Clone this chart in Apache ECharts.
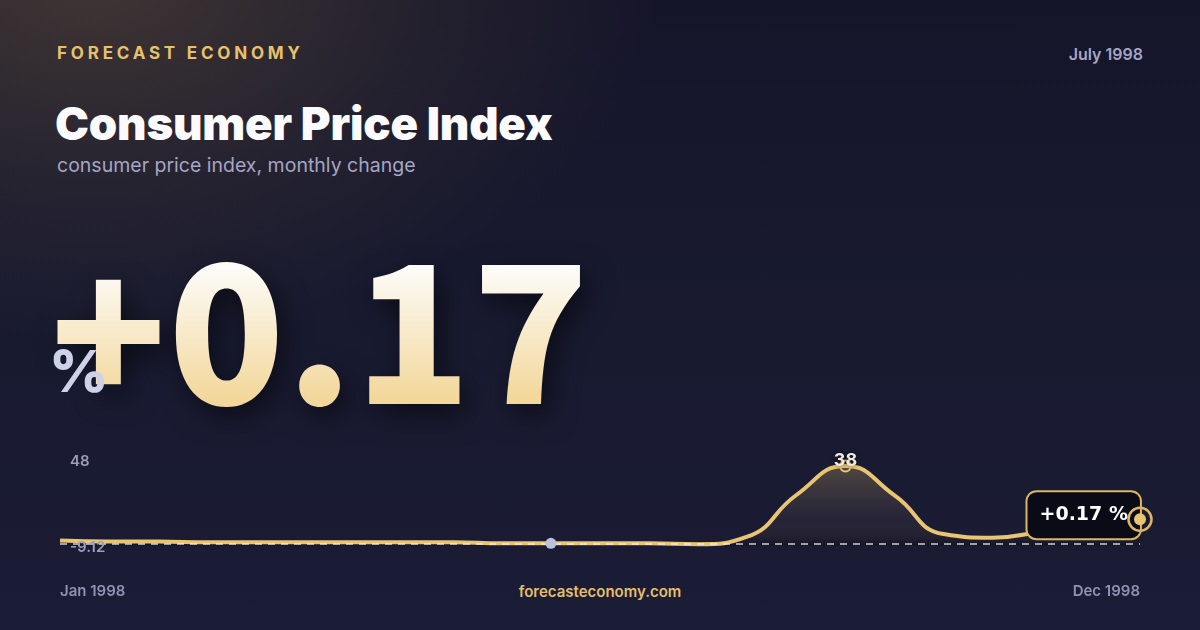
<!DOCTYPE html>
<html><head><meta charset="utf-8">
<script src="https://cdn.jsdelivr.net/npm/echarts@6/dist/echarts.min.js"></script>
<style>
html,body{margin:0;padding:0;}
body{width:1200px;height:630px;overflow:hidden;position:relative;font-family:Inter,'Noto Sans',sans-serif;
background:
 radial-gradient(ellipse 760px 480px at 90px -20px, rgba(98,80,60,0.55) 0%, rgba(98,80,60,0.18) 45%, rgba(98,80,60,0) 75%),
 linear-gradient(180deg,#15152a 0%,#181a30 50%,#1b1c35 100%);}
.t{position:absolute;white-space:nowrap;line-height:1;}
#brand{left:57px;top:44.7px;font-size:17px;font-weight:700;letter-spacing:3.8px;color:#e6c26c;}
#title{left:55px;top:101px;font-size:45.5px;font-weight:900;color:#fbfbfd;letter-spacing:-0.2px;}
#sub{left:57px;top:156.4px;font-size:19.5px;font-weight:400;color:#a4a6c4;}
#date{right:57px;top:46px;font-size:16px;font-weight:600;color:#a4a6c4;}
#big{left:50px;top:224px;font-family:'Noto Sans CJK SC',sans-serif;font-size:192px;font-weight:900;letter-spacing:1px;
 background:linear-gradient(180deg,#fdfcf9 22%,#f3d89c 90%);-webkit-background-clip:text;background-clip:text;color:transparent;
 filter:drop-shadow(6px 10px 14px rgba(0,0,0,0.55));}
#pct{left:49px;top:342px;font-size:58px;font-weight:800;color:#ced2e8;}
#foot{left:0;width:1200px;text-align:center;top:584px;font-size:15px;font-weight:600;color:#e3bf6a;}
#chart{position:absolute;left:0;top:0;width:1200px;height:630px;}
</style></head>
<body>
<div class="t" id="brand">FORECAST ECONOMY</div>
<div class="t" id="title">Consumer Price Index</div>
<div class="t" id="sub">consumer price index, monthly change</div>
<div class="t" id="date">July 1998</div>
<div class="t" id="big"></div>
<div class="t" id="pct">%</div>
<div class="t" id="foot">forecasteconomy.com</div>
<div id="chart"></div>
<script>
// semi-monthly observations, Jan 1998 .. Dec 1998
const DATES = ['1998-01-01','1998-01-16','1998-02-01','1998-02-16','1998-03-01','1998-03-16','1998-04-01','1998-04-16',
  '1998-05-01','1998-05-16','1998-06-01','1998-06-16','1998-07-01','1998-07-16','1998-08-01','1998-08-16',
  '1998-09-01','1998-09-16','1998-10-01','1998-10-16','1998-11-01','1998-11-16','1998-12-01'];
const VALUES = [2.55, 2.07, 2.07, 1.69, 1.69, 1.69, 1.69, 1.69, 1.69, 1.21, 1.21, 1.21,
  1.21, 0.74, 4.35, 24.2, 38, 24.0, 5.6, 3.9, 6.6, 9.0, 12.67];
const Y_TICKS = [-9.12, 48];
const HEADLINE = 0.17;
const HEADLINE_UNIT = '%';
const MARKED_INDEX = 10;

const MONTH_NAMES = ['Jan','Feb','Mar','Apr','May','Jun','Jul','Aug','Sep','Oct','Nov','Dec'];
const fmtDate = s => { const [y,m] = s.split('-'); return MONTH_NAMES[+m-1] + ' ' + y; };
const Y_MIN = Y_TICKS[0], Y_MAX = Y_TICKS[1];
const LAST = VALUES.length - 1;
const GOLD = '#e9c571';
const headlineText = (HEADLINE >= 0 ? '+' : '') + HEADLINE.toFixed(2);
document.getElementById('big').textContent = headlineText;

const chart = echarts.init(document.getElementById('chart'), null, {renderer:'canvas'});
const baseLabel = {fontFamily:'Inter', fontSize:15, fontWeight:600, color:'#9b9db9'};
function yAxisFor(which){
  return {
    type:'value', min:Y_MIN, max:Y_MAX, interval:Y_MAX-Y_MIN, position:'left', z:10,
    axisLine:{show:false}, axisTick:{show:false}, splitLine:{show:false},
    axisLabel:Object.assign({}, baseLabel, {
      inside:true, margin:10,
      verticalAlign: which==='max' ? 'top' : 'bottom',
      lineHeight: which==='max' ? 32 : 36,
      formatter: v => {
        const target = which==='max' ? Y_MAX : Y_MIN;
        return Math.abs(v-target) < 1e-6 ? String(target) : '';
      }
    })
  };
}
const endPoint = [[DATES[LAST], VALUES[LAST]]];
const option = {
  animation:false,
  grid:{left:60, right:60, top:445, bottom:65},
  xAxis:{
    type:'category', data:DATES, boundaryGap:false,
    axisLine:{show:false}, axisTick:{show:false}, splitLine:{show:false},
    axisLabel:Object.assign({}, baseLabel, {
      color:'#8f92b0', margin:19,
      interval:(i)=> i===0 || i===LAST,
      formatter: fmtDate,
      alignMinLabel:'left', alignMaxLabel:'right'
    })
  },
  yAxis:[yAxisFor('max'), yAxisFor('min')],
  series:[
    {
      type:'line', data:VALUES, smooth:true, symbol:'none', silent:true, z:1,
      lineStyle:{width:0, opacity:0},
      areaStyle:{color:new echarts.graphic.LinearGradient(0,0,0,1,[
        {offset:0, color:'rgba(228,190,110,0.40)'},
        {offset:0.7, color:'rgba(150,120,90,0.13)'},
        {offset:1, color:'rgba(6,6,10,0.45)'}
      ])}
    },
    {
      type:'line', data:VALUES, smooth:true, symbol:'none', silent:true, z:2,
      lineStyle:{opacity:0},
      markLine:{
        silent:true, symbol:'none', label:{show:false},
        lineStyle:{color:'rgba(240,240,250,0.85)', width:1.5, type:[7,6]},
        data:[{yAxis:VALUES[MARKED_INDEX]}]
      }
    },
    {
      type:'line', data:VALUES, smooth:true, symbol:'none', z:3,
      lineStyle:{color:GOLD, width:4},
      markPoint:{
        data:[
          {type:'max', symbol:'circle', symbolSize:11,
           itemStyle:{color:'rgba(0,0,0,0)', borderColor:GOLD, borderWidth:2},
           label:{show:true, position:'inside', offset:[0,-5], formatter:'{c}',
             color:'#efebe2', fontFamily:'Inter', fontSize:18, fontWeight:700,
             textShadowColor:'rgba(0,0,0,0.5)', textShadowBlur:4}},
          {coord:[DATES[MARKED_INDEX], VALUES[MARKED_INDEX]], symbol:'circle', symbolSize:11,
           itemStyle:{color:'#bcc1dc'}, label:{show:false}}
        ]
      }
    },
    {
      type:'scatter', data:endPoint, symbol:'circle', symbolSize:0.1, z:4, silent:true,
      itemStyle:{color:'#0a0b17', opacity:1},
      label:{show:true, position:'left', distance:0, offset:[0,-4],
        formatter: headlineText + ' ' + HEADLINE_UNIT,
        color:'#ffffff', fontFamily:'DejaVu Sans', fontSize:19, fontWeight:'bold', lineHeight:24,
        backgroundColor:'#0a0b17', borderColor:'#dcb660', borderWidth:2, borderRadius:9,
        padding:[11,12,11,12]}
    },
    {
      type:'scatter', data:endPoint, symbolSize:23, z:5, silent:true,
      itemStyle:{color:'rgba(0,0,0,0)', borderColor:'#dcb660', borderWidth:2.5, opacity:1}
    },
    {
      type:'scatter', data:endPoint, symbolSize:12, z:6, silent:true,
      itemStyle:{color:GOLD, opacity:1}
    }
  ]
};
chart.setOption(option);
</script>
</body></html>
